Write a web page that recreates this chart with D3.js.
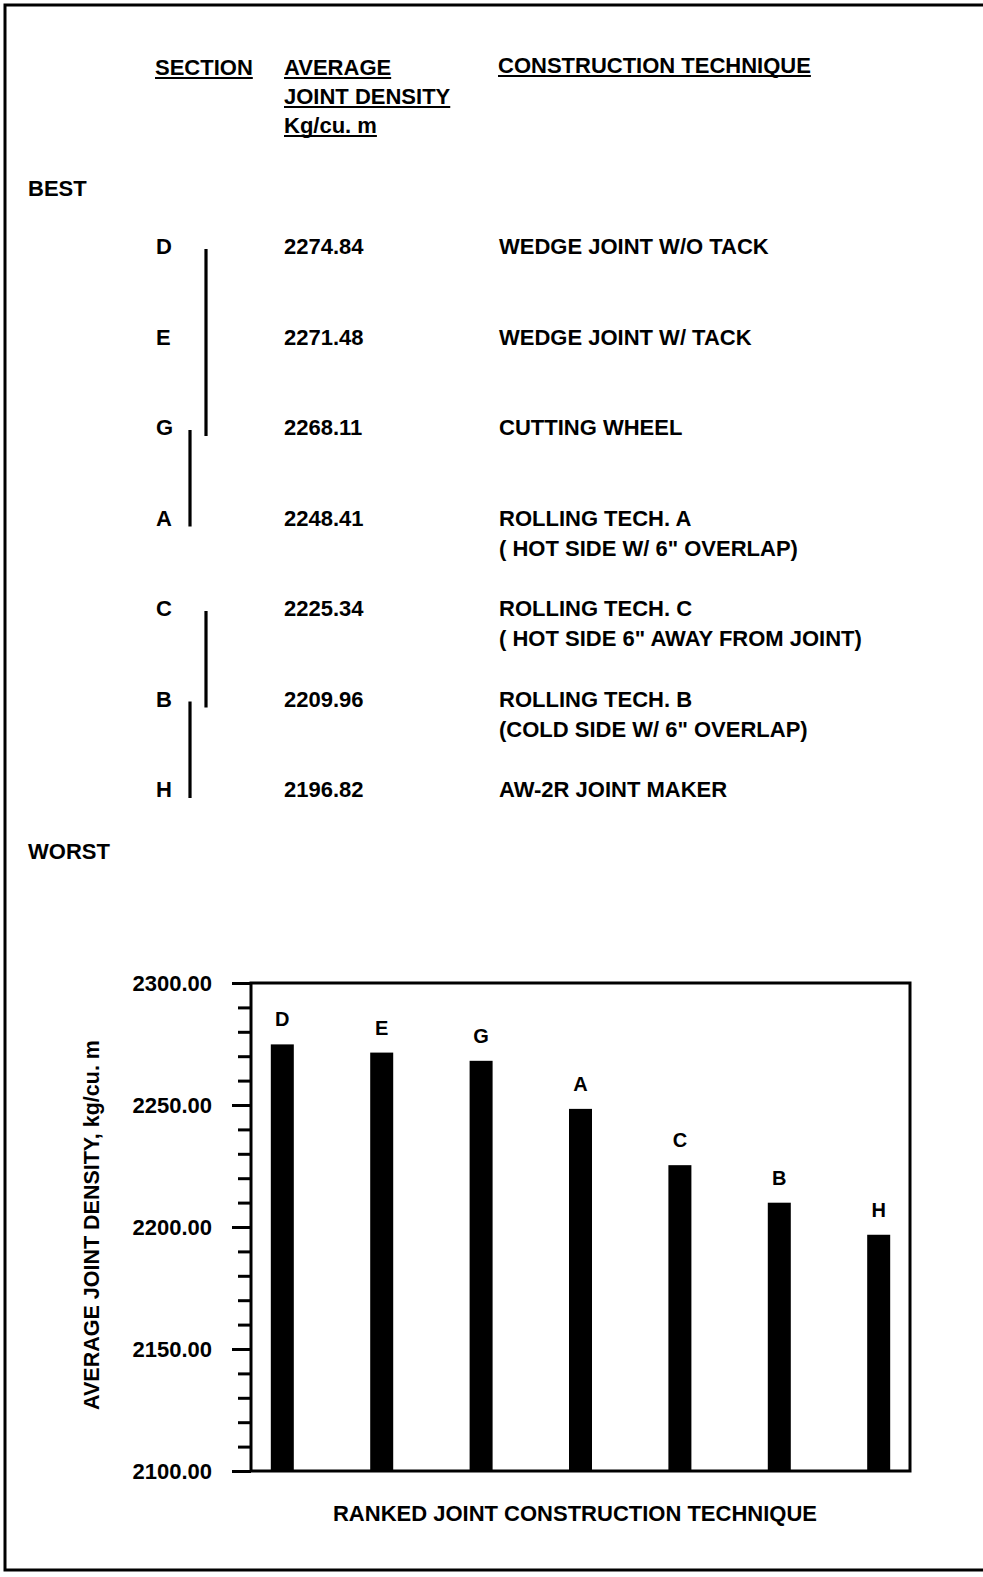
<!DOCTYPE html>
<html>
<head>
<meta charset="utf-8">
<script src="https://cdn.jsdelivr.net/npm/d3@7"></script>
<style>
  body { margin: 0; background: #fff; }
  text { font-family: "Liberation Sans", Arial, Helvetica, sans-serif; font-weight: bold; fill: #000; }
</style>
</head>
<body>
<script>
  // Ranked sections, best to worst
  var sections = ["D", "E", "G", "A", "C", "B", "H"];
  var densities = [2274.84, 2271.48, 2268.11, 2248.41, 2225.34, 2209.96, 2196.82];
  var techniques = [
    ["WEDGE JOINT W/O TACK"],
    ["WEDGE JOINT W/ TACK"],
    ["CUTTING WHEEL"],
    ["ROLLING TECH. A", "( HOT SIDE W/ 6\" OVERLAP)"],
    ["ROLLING TECH. C", "( HOT SIDE 6\" AWAY FROM JOINT)"],
    ["ROLLING TECH. B", "(COLD SIDE W/ 6\" OVERLAP)"],
    ["AW-2R JOINT MAKER"]
  ];
  // groups not significantly different: [first, last, lane]
  var groups = [["D", "G", 1], ["G", "A", 0], ["C", "B", 1], ["B", "H", 0]];
  var yTicks = [2100, 2150, 2200, 2250, 2300];
  var yMinorTicks = d3.range(2100, 2301, 10);

  (function () {
    var W = 983, H = 1577;
    var fs = "22px";
    var svg = d3.select("body").append("svg")
      .attr("width", W)
      .attr("height", H);

    // page frame
    svg.append("path")
      .attr("d", "M990,5 H5 V1570 H990")
      .attr("fill", "none")
      .attr("stroke", "#000")
      .attr("stroke-width", 3);

    // ---- table part ----
    var header = svg.append("g");
    var headers = [
      { t: "SECTION", x: 155, y: 75 },
      { t: "AVERAGE", x: 284, y: 75 },
      { t: "JOINT DENSITY", x: 284, y: 104 },
      { t: "Kg/cu. m", x: 284, y: 133 },
      { t: "CONSTRUCTION TECHNIQUE", x: 498, y: 73 }
    ];
    headers.forEach(function (h) {
      var t = header.append("text")
        .attr("x", h.x)
        .attr("y", h.y)
        .style("font-size", fs)
        .text(h.t);
      var w = t.node().getComputedTextLength();
      header.append("line")
        .attr("x1", h.x).attr("x2", h.x + w)
        .attr("y1", h.y + 3).attr("y2", h.y + 3)
        .attr("stroke", "#000")
        .attr("stroke-width", 2);
    });

    svg.append("text").attr("x", 28).attr("y", 196).style("font-size", fs).text("BEST");
    svg.append("text").attr("x", 28).attr("y", 859).style("font-size", fs).text("WORST");

    var row = d3.scalePoint()
      .domain(sections)
      .range([246, 789]);

    var rows = svg.append("g").selectAll("g.row")
      .data(sections)
      .enter().append("g")
      .attr("class", "row")
      .attr("transform", function (d) { return "translate(0," + row(d) + ")"; });

    rows.append("text")
      .attr("x", 156).attr("y", 8)
      .style("font-size", fs)
      .text(function (d) { return d; });

    rows.append("text")
      .attr("x", 284).attr("y", 8)
      .style("font-size", fs)
      .text(function (d, i) { return densities[i].toFixed(2); });

    rows.each(function (d, i) {
      var g = d3.select(this);
      techniques[i].forEach(function (s, j) {
        g.append("text")
          .attr("x", 499).attr("y", 8 + j * 30)
          .style("font-size", fs)
          .text(s);
      });
    });

    var laneX = [190, 206];
    svg.append("g").selectAll("line")
      .data(groups)
      .enter().append("line")
      .attr("x1", function (d) { return laneX[d[2]]; })
      .attr("x2", function (d) { return laneX[d[2]]; })
      .attr("y1", function (d) { return row(d[0]) + 3; })
      .attr("y2", function (d) { return row(d[1]) + 9; })
      .attr("stroke", "#000")
      .attr("stroke-width", 3.2);

    // ---- bar chart ----
    var plotLeft = 251, plotRight = 910, plotTop = 983, plotBottom = 1471;

    var x = d3.scalePoint()
      .domain(sections)
      .range([plotLeft, plotRight])
      .padding(0.315);

    var y = d3.scaleLinear()
      .domain([2100, 2300])
      .range([plotBottom, plotTop]);

    var barW = 23;

    svg.append("g").selectAll("rect.bar")
      .data(sections)
      .enter().append("rect")
      .attr("class", "bar")
      .attr("x", function (d) { return x(d) - barW / 2; })
      .attr("y", function (d, i) { return y(densities[i]); })
      .attr("width", barW)
      .attr("height", function (d, i) { return plotBottom - y(densities[i]); })
      .attr("fill", "#000");

    svg.append("g").selectAll("text.lbl")
      .data(sections)
      .enter().append("text")
      .attr("class", "lbl")
      .attr("x", function (d) { return x(d); })
      .attr("y", function (d, i) { return y(densities[i]) - 18; })
      .attr("text-anchor", "middle")
      .style("font-size", "20px")
      .text(function (d) { return d; });

    // minor ticks
    var minorAxis = d3.axisLeft(y)
      .tickValues(yMinorTicks)
      .tickSize(13)
      .tickFormat("");
    var gMinor = svg.append("g")
      .attr("transform", "translate(" + plotLeft + ",0)")
      .call(minorAxis);
    gMinor.select(".domain").remove();
    gMinor.selectAll("line").attr("stroke", "#000").attr("stroke-width", 3);

    var majorAxis = d3.axisLeft(y)
      .tickValues(yTicks)
      .tickSize(19)
      .tickPadding(20)
      .tickFormat(d3.format(".2f"));
    var gMajor = svg.append("g")
      .attr("transform", "translate(" + plotLeft + ",0)")
      .call(majorAxis);
    gMajor.select(".domain").remove();
    gMajor.selectAll("line").attr("stroke", "#000").attr("stroke-width", 3);
    gMajor.selectAll("text")
      .attr("fill", "#000")
      .style("font-size", fs)
      .style("font-family", "'Liberation Sans', Arial, sans-serif")
      .style("font-weight", "bold")
      .attr("dy", "0.36em");

    // plot frame
    svg.append("rect")
      .attr("x", plotLeft).attr("y", plotTop)
      .attr("width", plotRight - plotLeft).attr("height", plotBottom - plotTop)
      .attr("fill", "none")
      .attr("stroke", "#000")
      .attr("stroke-width", 3);

    svg.append("text")
      .attr("x", (333 + 817) / 2).attr("y", 1521)
      .attr("text-anchor", "middle")
      .style("font-size", fs)
      .text("RANKED JOINT CONSTRUCTION TECHNIQUE");

    svg.append("text")
      .attr("transform", "translate(99,1225) rotate(-90)")
      .attr("text-anchor", "middle")
      .style("font-size", "21.5px")
      .text("AVERAGE JOINT DENSITY, kg/cu. m");
  })();
</script>
</body>
</html>
